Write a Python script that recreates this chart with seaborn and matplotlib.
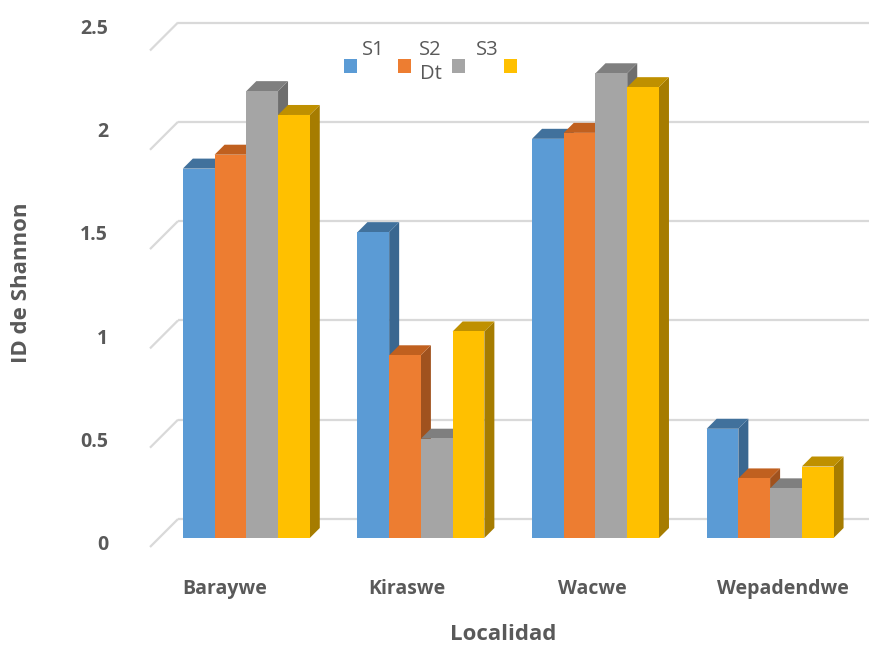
import numpy as np
import pandas as pd
import matplotlib
matplotlib.use("Agg")
import matplotlib.pyplot as plt
import seaborn as sns
from matplotlib.patches import Polygon, Rectangle
from matplotlib.transforms import ScaledTranslation

# ---- data ----
localidades = ["Baraywe", "Kiraswe", "Wacwe", "Wepadendwe"]
series = ["S1", "S2", "S3", "Dt"]
s1 = [1.86, 1.54, 2.01, 0.55]
s2 = [1.93, 0.92, 2.04, 0.30]
s3 = [2.25, 0.50, 2.34, 0.25]
dt = [2.13, 1.04, 2.27, 0.36]
yticks = [0, 0.5, 1, 1.5, 2, 2.5]
ytick_labels = ["0", "0.5", "1", "1.5", "2", "2.5"]

# ---- styling ----
front_colors = ["#5B9BD5", "#ED7D31", "#A5A5A5", "#FFC000"]
top_colors = ["#41719C", "#C0601F", "#7F7F7F", "#BF9000"]
side_colors = ["#3A6790", "#A0521E", "#6E6E6E", "#A67C00"]
text_color = "#595959"
grid_color = "#D9D9D9"

sns.set_theme(style="white")
plt.rcParams["font.family"] = ["Open Sans", "DejaVu Sans"]

W, H = 870, 646
fig = plt.figure(figsize=(W / 100, H / 100), dpi=100)

# axes frame in pixels
ax_l, ax_r, ax_t, ax_b = 140, 870, 10, 560
ax = fig.add_axes([ax_l / W, (H - ax_b) / H, (ax_r - ax_l) / W, (ax_b - ax_t) / H])

# pixel geometry of the front plane of the bars
cat0_px, cat_step = 246.3, 174.6       # category centre / spacing
base_px, unit_px = 538.0, 198.6        # y=0 line / pixels per unit
depth = 10.0                           # bar depth in pixels


def px_x(px):
    return (px - cat0_px) / cat_step


def px_y(px):
    return (base_px - px) / unit_px


rows = []
for name, vals in zip(series, [s1, s2, s3, dt]):
    for loc, v in zip(localidades, vals):
        rows.append({"Localidad": loc, "Serie": name, "ID": v})
df = pd.DataFrame(rows)

sns.barplot(data=df, x="Localidad", y="ID", hue="Serie",
            order=localidades, hue_order=series, palette=front_colors,
            saturation=1, width=0.727, gap=0, errorbar=None,
            legend=False, linewidth=0, ax=ax)

ax.set_xlim(px_x(ax_l), px_x(ax_r))
ax.set_ylim(px_y(ax_b), px_y(ax_t))

# back wall grid with the receding floor/wall diagonals
back_dy = 19.0 / unit_px
front_dy = 9.0 / unit_px
for v in yticks:
    ax.plot([px_x(178), px_x(ax_r)], [v + back_dy, v + back_dy],
            color=grid_color, lw=1.6, zorder=1, solid_capstyle="butt")
    ax.plot([px_x(150), px_x(178)], [v - front_dy, v + back_dy],
            color=grid_color, lw=1.6, zorder=1, solid_capstyle="butt")

# extrude every bar: right side and top faces
ddx = depth / cat_step
ddy = depth / unit_px
for k, cont in enumerate(ax.containers):
    for p in cont:
        x0, w, h = p.get_x(), p.get_width(), p.get_height()
        z = 3 + x0
        top = Polygon([(x0, h), (x0 + w, h), (x0 + w + ddx, h + ddy), (x0 + ddx, h + ddy)],
                      closed=True, facecolor=top_colors[k], edgecolor="none", zorder=z + 0.001)
        side = Polygon([(x0 + w, 0), (x0 + w, h), (x0 + w + ddx, h + ddy), (x0 + w + ddx, ddy)],
                       closed=True, facecolor=side_colors[k], edgecolor="none", zorder=z + 0.001)
        ax.add_patch(side)
        ax.add_patch(top)
        p.set_zorder(z + 0.002)

for s in ax.spines.values():
    s.set_visible(False)

# y ticks
ax.set_yticks(yticks)
ax.set_yticklabels(ytick_labels)
ax.tick_params(axis="y", length=0, pad=23, labelsize=14, labelcolor=text_color)
for v, lab in zip(yticks, ax.get_yticklabels()):
    lab.set_fontweight("bold")
    shift = -(5 - 8.2 * v) / 100.0
    lab.set_transform(lab.get_transform() + ScaledTranslation(0, shift, fig.dpi_scale_trans))

# x ticks
ax.tick_params(axis="x", length=0, pad=13.5, labelsize=14, labelcolor=text_color)
x_shift_px = [-22, -14, -3, 13]
for dxp, lab in zip(x_shift_px, ax.get_xticklabels()):
    lab.set_fontweight("bold")
    lab.set_transform(lab.get_transform() + ScaledTranslation(dxp / 100.0, 0, fig.dpi_scale_trans))

ax.set_xlabel("Localidad", fontsize=16, fontweight="bold", color=text_color, va="center")
ax.xaxis.set_label_coords((503 - ax_l) / (ax_r - ax_l), (ax_b - 635) / (ax_b - ax_t))
ax.set_ylabel("ID de Shannon", fontsize=16, fontweight="bold", color=text_color, va="center")
ax.yaxis.set_label_coords((22 - ax_l) / (ax_r - ax_l), (ax_b - 283) / (ax_b - ax_t))

# legend keys and names
key_cx = [351, 405, 458.5, 511]
for cx, c in zip(key_cx, front_colors):
    fig.add_artist(Rectangle(((cx - 6.5) / W, 1 - 73 / H), 13 / W, 14 / H,
                             transform=fig.transFigure, facecolor=c, edgecolor="none"))
legend_text = [("S1", 362, 50), ("S2", 419, 50), ("Dt", 420, 74), ("S3", 476, 50)]
for txt, tx, ty in legend_text:
    fig.text(tx / W, 1 - ty / H, txt, ha="left", va="center", fontsize=14.5, color=text_color)

fig.savefig("out.png", dpi=100)
